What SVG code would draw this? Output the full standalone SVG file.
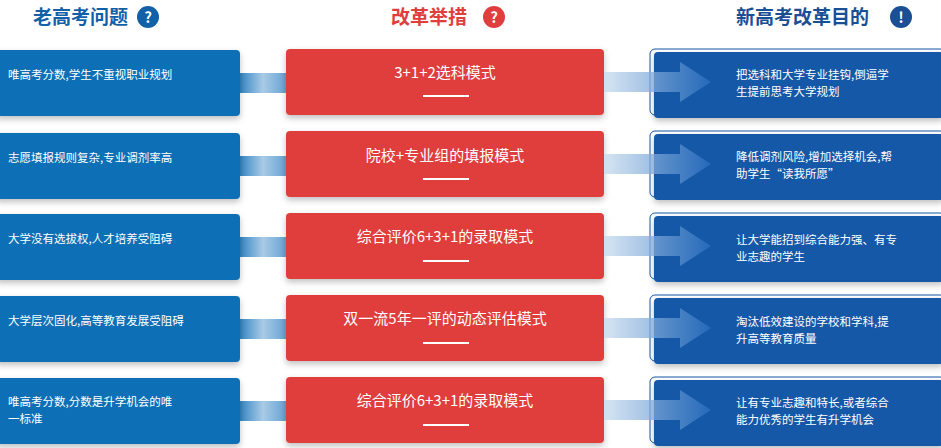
<svg xmlns="http://www.w3.org/2000/svg" width="941" height="448" viewBox="0 0 941 448">
<defs>
<linearGradient id="gl" x1="0" x2="1"><stop offset="0" stop-color="#2a7fc0"/><stop offset="0.5" stop-color="#a9cbe6"/><stop offset="1" stop-color="#5f9fd2"/></linearGradient>
<linearGradient id="gr" x1="0" x2="1"><stop offset="0" stop-color="#c8dcef"/><stop offset="1" stop-color="#2a6fc0"/></linearGradient>
<filter id="sh" x="-10%" y="-20%" width="120%" height="150%"><feDropShadow dx="0" dy="3" stdDeviation="3" flood-color="#000" flood-opacity="0.25"/></filter>
</defs>
<style>
text{font-family:"Noto Sans CJK SC","Noto Sans",sans-serif}
.h{font-size:19px;font-weight:bold}
.l{fill:#0a6fb6}
.c{fill:#e03e3e}
.r{fill:#1559a8}
.t{fill:#fff;font-size:11.5px}
.m{fill:#fff;font-size:15px}
</style>
<rect width="941" height="448" fill="#fff"/>
<g id="headers">
<text x="33" y="24" class="h" fill="#1260a8">老高考问题</text>
<circle cx="148" cy="17" r="11" fill="#1260a8"/><text x="148" y="23" font-size="15" font-weight="bold" fill="#fff" text-anchor="middle">?</text>
<text x="391" y="24" class="h" fill="#e03e3e">改革举措</text>
<circle cx="494" cy="17" r="11" fill="#e03e3e"/><text x="494" y="23" font-size="15" font-weight="bold" fill="#fff" text-anchor="middle">?</text>
<text x="736" y="24" class="h" fill="#1a4f96">新高考改革目的</text>
<circle cx="901" cy="17" r="11" fill="#1a4f96"/><text x="901" y="23" font-size="15" font-weight="bold" fill="#fff" text-anchor="middle">!</text>
</g>
<g id="connectors">
<rect x="238" y="73" width="50" height="20" fill="url(#gl)"/>
<rect x="238" y="156" width="50" height="20" fill="url(#gl)"/>
<rect x="238" y="237" width="50" height="20" fill="url(#gl)"/>
<rect x="238" y="319" width="50" height="20" fill="url(#gl)"/>
<rect x="238" y="401" width="50" height="20" fill="url(#gl)"/>
</g>
<g id="left">
<g id="l1"><rect x="-5" y="50" width="245" height="66" rx="4" class="l" filter="url(#sh)"/><text x="8" y="79" class="t">唯高考分数,学生不重视职业规划</text></g>
<g id="l2"><rect x="-5" y="133" width="245" height="66" rx="4" class="l" filter="url(#sh)"/><text x="8" y="162" class="t">志愿填报规则复杂,专业调剂率高</text></g>
<g id="l3"><rect x="-5" y="214" width="245" height="66" rx="4" class="l" filter="url(#sh)"/><text x="8" y="243" class="t">大学没有选拔权,人才培养受阻碍</text></g>
<g id="l4"><rect x="-5" y="296" width="245" height="66" rx="4" class="l" filter="url(#sh)"/><text x="8" y="325" class="t">大学层次固化,高等教育发展受阻碍</text></g>
<g id="l5"><rect x="-5" y="378" width="245" height="66" rx="4" class="l" filter="url(#sh)"/><text x="8" y="406" class="t">唯高考分数,分数是升学机会的唯</text><text x="8" y="423" class="t">一标准</text></g>
</g>
<g id="center">
<g id="c1"><rect x="286" y="49" width="318" height="66" rx="4" class="c" filter="url(#sh)"/><text x="445" y="78" class="m" text-anchor="middle">3+1+2选科模式</text><rect x="423" y="95" width="46" height="2" fill="#fff"/></g>
<g id="c2"><rect x="286" y="131" width="318" height="66" rx="4" class="c" filter="url(#sh)"/><text x="445" y="161" class="m" text-anchor="middle">院校+专业组的填报模式</text><rect x="423" y="178" width="46" height="2" fill="#fff"/></g>
<g id="c3"><rect x="286" y="213" width="318" height="66" rx="4" class="c" filter="url(#sh)"/><text x="445" y="242" class="m" text-anchor="middle">综合评价6+3+1的录取模式</text><rect x="423" y="260" width="46" height="2" fill="#fff"/></g>
<g id="c4"><rect x="286" y="295" width="318" height="66" rx="4" class="c" filter="url(#sh)"/><text x="445" y="324" class="m" text-anchor="middle">双一流5年一评的动态评估模式</text><rect x="423" y="342" width="46" height="2" fill="#fff"/></g>
<g id="c5"><rect x="286" y="377" width="318" height="66" rx="4" class="c" filter="url(#sh)"/><text x="445" y="406" class="m" text-anchor="middle">综合评价6+3+1的录取模式</text><rect x="423" y="424" width="46" height="2" fill="#fff"/></g>
</g>
<g id="right">
<g id="r1"><rect x="650" y="49" width="295" height="66" rx="5" fill="none" stroke="#1559a8"/><rect x="654" y="52" width="290" height="66" rx="4" class="r" filter="url(#sh)"/><path d="M604 72H680V62L711 82L680 102V92H604Z" fill="url(#gr)" opacity="0.75"/><text x="736" y="79" class="t">把选科和大学专业挂钩,倒逼学</text><text x="736" y="96" class="t">生提前思考大学规划</text></g>
<g id="r2"><rect x="650" y="131" width="295" height="66" rx="5" fill="none" stroke="#1559a8"/><rect x="654" y="134" width="290" height="66" rx="4" class="r" filter="url(#sh)"/><path d="M604 154H680V144L711 164L680 184V174H604Z" fill="url(#gr)" opacity="0.75"/><text x="736" y="161" class="t">降低调剂风险,增加选择机会,帮</text><text x="736" y="178" class="t">助学生“读我所愿”</text></g>
<g id="r3"><rect x="650" y="213" width="295" height="66" rx="5" fill="none" stroke="#1559a8"/><rect x="654" y="216" width="290" height="66" rx="4" class="r" filter="url(#sh)"/><path d="M604 236H680V226L711 246L680 266V256H604Z" fill="url(#gr)" opacity="0.75"/><text x="736" y="244" class="t">让大学能招到综合能力强、有专</text><text x="736" y="261" class="t">业志趣的学生</text></g>
<g id="r4"><rect x="650" y="295" width="295" height="66" rx="5" fill="none" stroke="#1559a8"/><rect x="654" y="298" width="290" height="66" rx="4" class="r" filter="url(#sh)"/><path d="M604 318H680V308L711 328L680 348V338H604Z" fill="url(#gr)" opacity="0.75"/><text x="736" y="326" class="t">淘汰低效建设的学校和学科,提</text><text x="736" y="343" class="t">升高等教育质量</text></g>
<g id="r5"><rect x="650" y="377" width="295" height="66" rx="5" fill="none" stroke="#1559a8"/><rect x="654" y="380" width="290" height="66" rx="4" class="r" filter="url(#sh)"/><path d="M604 400H680V390L711 410L680 430V420H604Z" fill="url(#gr)" opacity="0.75"/><text x="736" y="407" class="t">让有专业志趣和特长,或者综合</text><text x="736" y="424" class="t">能力优秀的学生有升学机会</text></g>
</g>
</svg>
